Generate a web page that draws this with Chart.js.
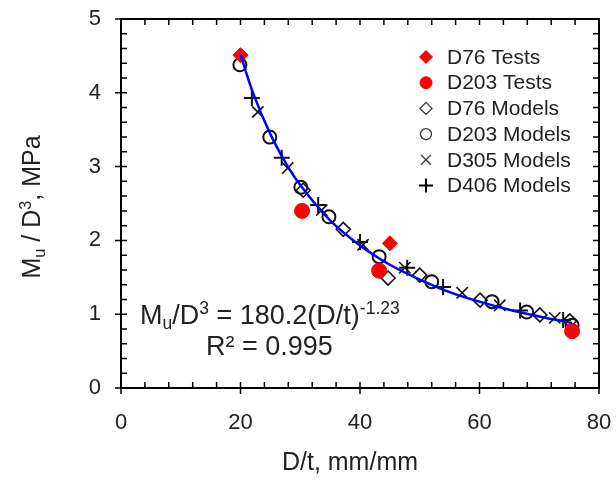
<!DOCTYPE html>
<html>
<head>
<meta charset="utf-8">
<script src="https://cdn.jsdelivr.net/npm/chart.js@4"></script>
<style>
  body { margin: 0; background: #fff; }
  #wrap { width: 616px; height: 480px; }
</style>
</head>
<body>
<div id="wrap"><canvas id="chart"></canvas></div>
<script>
// values
var d76TestX = [20, 45];
var d76TestY = [4.51, 1.96];
var d203TestX = [30.3, 43.2, 75.5];
var d203TestY = [2.40, 1.59, 0.77];
var d76ModelX = [30.5, 37.2, 44.7, 50, 60.1, 70.1, 75.1];
var d76ModelY = [2.68, 2.15, 1.49, 1.53, 1.19, 0.99, 0.91];
var d203ModelX = [19.9, 24.9, 30.1, 34.8, 43.2, 52, 62.1, 67.9, 75.5];
var d203ModelY = [4.38, 3.40, 2.72, 2.32, 1.78, 1.44, 1.17, 1.03, 0.85];
var d305ModelX = [22.9, 27.9, 33.6, 40.5, 47.5, 57.1, 63.4, 72.6];
var d305ModelY = [3.74, 2.98, 2.41, 1.94, 1.63, 1.29, 1.12, 0.95];
var d406ModelX = [21.9, 26.9, 33.0, 40.0, 47.9, 53.9, 66.8, 74.0];
var d406ModelY = [3.93, 3.12, 2.48, 1.98, 1.63, 1.37, 1.05, 0.92];
// power trend line  Mu/D3 = 180.2(D/t)^-1.23
var trendX = [20, 22, 25, 28, 30, 35, 40, 45, 50, 55, 60, 65, 70, 75.5];
var trendY = [4.52, 4.02, 3.44, 2.99, 2.75, 2.27, 1.93, 1.67, 1.47, 1.30, 1.17, 1.06, 0.97, 0.88];

var xTicks = [0, 20, 40, 60, 80];
var yTicks = [0, 1, 2, 3, 4, 5];

function pts(xs, ys) {
    var out = [];
    for (var i = 0; i < xs.length; i++) out.push({x: xs[i], y: ys[i]});
    return out;
}

var FONT = 'Arial, "Liberation Sans", sans-serif';
var TXT = '#222';

var legendItems = [
    {label: 'D76 Tests', style: 'rectRot', fill: '#ff0000', stroke: '#ff0000', r: 6.5, bw: 1},
    {label: 'D203 Tests', style: 'circle', fill: '#ff0000', stroke: '#ff0000', r: 6, bw: 1},
    {label: 'D76 Models', style: 'rectRot', fill: 'rgba(0,0,0,0)', stroke: '#333', r: 6, bw: 1.3},
    {label: 'D203 Models', style: 'circle', fill: 'rgba(0,0,0,0)', stroke: '#333', r: 5.5, bw: 1.3},
    {label: 'D305 Models', style: 'crossRot', fill: '#333', stroke: '#333', r: 7, bw: 1.3},
    {label: 'D406 Models', style: 'cross', fill: '#000', stroke: '#000', r: 7, bw: 2}
];

// draw a run of text pieces, some as sub / superscript
function drawRich(ctx, parts, x, y, size, measureOnly) {
    var cx = x;
    parts.forEach(function (p) {
        var s = p.sup || p.sub ? size * 0.65 : size;
        ctx.font = s + 'px ' + FONT;
        var dy = p.sup ? -size * 0.38 : (p.sub ? size * 0.18 : 0);
        if (!measureOnly) ctx.fillText(p.t, cx, y + dy);
        cx += ctx.measureText(p.t).width;
    });
    return cx - x;
}

var decor = {
    id: 'decor',
    afterDatasetsDraw: function (chart) {
        var ctx = chart.ctx;
        var a = chart.chartArea;
        var xs = chart.scales.x, ys = chart.scales.y;
        ctx.save();
        ctx.strokeStyle = '#000';
        ctx.lineWidth = 2;
        ctx.strokeRect(a.left, a.top, a.right - a.left, a.bottom - a.top);
        ctx.lineWidth = 1.5;
        ctx.beginPath();
        // x ticks, minor every 4
        for (var v = 0; v <= 80; v += 4) {
            var px = xs.getPixelForValue(v);
            var major = v % 20 === 0;
            ctx.moveTo(px, a.bottom + (major ? 6 : 0));
            ctx.lineTo(px, a.bottom - 6);
            ctx.moveTo(px, a.top);
            ctx.lineTo(px, a.top + 6);
        }
        // y ticks, minor every 0.2
        for (var k = 0; k <= 25; k++) {
            var py = ys.getPixelForValue(k * 0.2);
            var maj = k % 5 === 0;
            ctx.moveTo(a.left - (maj ? 6 : 0), py);
            ctx.lineTo(a.left + 6, py);
            ctx.moveTo(a.right, py);
            ctx.lineTo(a.right - 6, py);
        }
        ctx.stroke();

        ctx.fillStyle = TXT;
        ctx.textBaseline = 'alphabetic';
        ctx.textAlign = 'left';

        // x title
        ctx.font = '25px ' + FONT;
        ctx.textAlign = 'center';
        ctx.fillText('D/t, mm/mm', 350, 470);
        ctx.textAlign = 'left';

        // y title, rotated
        var yParts = [{t: 'M'}, {t: 'u', sub: true}, {t: ' / D'}, {t: '3', sup: true}, {t: ', MPa'}];
        ctx.save();
        ctx.translate(40, 207);
        ctx.rotate(-Math.PI / 2);
        var w = drawRich(ctx, yParts, 0, 0, 25, true);
        drawRich(ctx, yParts, -w / 2, 0, 25, false);
        ctx.restore();

        // fit equation
        var eq = [{t: 'M'}, {t: 'u', sub: true}, {t: '/D'}, {t: '3', sup: true}, {t: ' = 180.2(D/t)'}, {t: '-1.23', sup: true}];
        drawRich(ctx, eq, 140, 324, 27, false);
        ctx.font = '27px ' + FONT;
        ctx.fillText('R\u00b2 = 0.995', 206, 355);

        // legend
        legendItems.forEach(function (it, i) {
            var ly = 57 + i * 25.7;
            ctx.fillStyle = it.fill;
            ctx.strokeStyle = it.stroke;
            ctx.lineWidth = it.bw;
            Chart.helpers.drawPoint(ctx, {pointStyle: it.style, radius: it.r, borderWidth: it.bw, rotation: 0}, 426, ly);
            ctx.fillStyle = TXT;
            ctx.font = '21px ' + FONT;
            ctx.textBaseline = 'middle';
            ctx.fillText(it.label, 447, ly + 1);
        });
        ctx.restore();
    }
};

new Chart(document.getElementById('chart'), {
    type: 'scatter',
    data: {
        datasets: [
            {
                label: 'Fit',
                type: 'line',
                data: pts(trendX, trendY),
                borderColor: '#0000ff',
                borderWidth: 2.5,
                pointRadius: 0,
                fill: false,
                cubicInterpolationMode: 'monotone'
            },
            {
                label: 'D76 Tests',
                data: pts(d76TestX, d76TestY),
                pointStyle: 'rectRot',
                pointRadius: 7.5,
                backgroundColor: '#ff0000',
                borderColor: '#ff0000',
                borderWidth: 1
            },
            {
                label: 'D203 Tests',
                data: pts(d203TestX, d203TestY),
                pointStyle: 'circle',
                pointRadius: 7.5,
                backgroundColor: '#ff0000',
                borderColor: '#ff0000',
                borderWidth: 1
            },
            {
                label: 'D76 Models',
                data: pts(d76ModelX, d76ModelY),
                pointStyle: 'rectRot',
                pointRadius: 7,
                backgroundColor: 'rgba(0,0,0,0)',
                borderColor: '#111',
                borderWidth: 1.6
            },
            {
                label: 'D203 Models',
                data: pts(d203ModelX, d203ModelY),
                pointStyle: 'circle',
                pointRadius: 6.5,
                backgroundColor: 'rgba(0,0,0,0)',
                borderColor: '#111',
                borderWidth: 2
            },
            {
                label: 'D305 Models',
                data: pts(d305ModelX, d305ModelY),
                pointStyle: 'crossRot',
                pointRadius: 8,
                borderColor: '#111',
                borderWidth: 1.6
            },
            {
                label: 'D406 Models',
                data: pts(d406ModelX, d406ModelY),
                pointStyle: 'cross',
                pointRadius: 8,
                borderColor: '#111',
                borderWidth: 2
            }
        ]
    },
    options: {
        responsive: true,
        maintainAspectRatio: false,
        animation: false,
        layout: {padding: {left: 0, top: 19, right: 17, bottom: 0}},
        plugins: {
            legend: {display: false},
            tooltip: {enabled: false}
        },
        scales: {
            x: {
                type: 'linear',
                min: 0,
                max: 80,
                afterFit: function (s) {
                    s.height = 92;
                    s.paddingLeft = 0;
                    s.paddingRight = 0;
                },
                afterBuildTicks: function (s) { s.ticks = xTicks.map(function (v) { return {value: v}; }); },
                grid: {display: false, drawTicks: false},
                border: {display: false},
                ticks: {color: TXT, font: {size: 22, family: FONT}, padding: 22}
            },
            y: {
                type: 'linear',
                min: 0,
                max: 5,
                afterFit: function (s) {
                    s.width = 121;
                    s.paddingTop = 0;
                    s.paddingBottom = 0;
                },
                afterBuildTicks: function (s) { s.ticks = yTicks.map(function (v) { return {value: v}; }); },
                grid: {display: false, drawTicks: false},
                border: {display: false},
                ticks: {color: TXT, font: {size: 22, family: FONT}, padding: 20}
            }
        }
    },
    plugins: [decor]
});
</script>
</body>
</html>
